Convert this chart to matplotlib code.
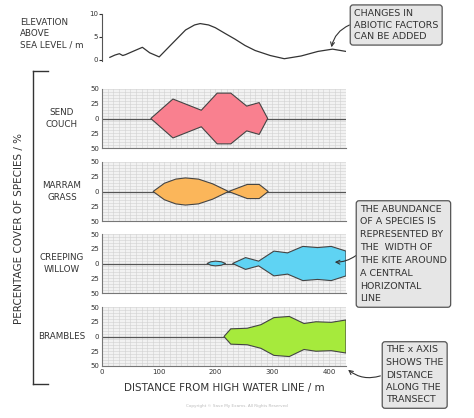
import matplotlib
matplotlib.use("Agg")
import matplotlib.pyplot as plt
import numpy as np

W, H = 474, 418
elev_x = [9, 18, 26, 32, 37, 50, 67, 80, 97, 120, 144, 160, 170, 185, 197, 215, 232, 250, 268, 295, 320, 350, 380, 406, 430]
elev_y = [0.5, 1.0, 1.3, 0.9, 1.1, 1.8, 2.7, 1.5, 0.6, 3.5, 6.5, 7.6, 7.9, 7.6, 7.0, 5.7, 4.5, 3.1, 2.0, 0.9, 0.2, 0.8, 1.8, 2.3, 1.8]

species = ["SEND\nCOUCH", "MARRAM\nGRASS", "CREEPING\nWILLOW", "BRAMBLES"]
colors = ["#f9808f", "#fbb65a", "#5fd3f3", "#a6ea3c"]
kites = [
    [([86, 125, 175, 203, 227, 255, 277, 292], [0, 33, 14, 43, 43, 21, 27, 0])],
    [([90, 110, 130, 147, 170, 195, 223], [0, 14, 21, 23, 21, 13, 0]),
     ([223, 256, 277, 293], [0, 12, 12, 0])],
    [([185, 192, 200, 210, 218], [0, 3, 4, 3, 0]),
     ([230, 253, 276, 303, 327, 354, 380, 404, 430], [0, 10, 4, 21, 18, 29, 27, 29, 21])],
    [([215, 227, 256, 280, 303, 330, 356, 377, 404, 430], [0, 13, 14, 20, 32, 34, 22, 25, 24, 28])],
]
xticks = [0, 100, 200, 300, 400]
xlabels = ["0", "100", "200", "300", "400"]
ytick_vals = [-50, -25, 0, 25, 50]
ytick_labels = ["50", "25", "0", "25", "50"]

fig = plt.figure(figsize=(W / 100, H / 100), dpi=100)
fs = 6.3
tc = "#333333"

def rect(x0, y0, x1, y1):
    return [x0 / W, 1 - y1 / H, (x1 - x0) / W, (y1 - y0) / H]

L, R = 102, 346
ax = fig.add_axes(rect(L, 14, R, 61))
ax.plot(elev_x, elev_y, color="#333333", lw=0.9)
ax.set_xlim(-5, 430)
ax.set_ylim(-0.3, 10)
ax.set_yticks([0, 5, 10])
ax.tick_params(labelsize=5, length=2, colors=tc, pad=1)
for s in ["top", "right", "bottom"]:
    ax.spines[s].set_visible(False)
ax.spines["left"].set_color("#555555")
ax.set_xticks([])
fig.text(20 / W, 1 - 34 / H, "ELEVATION\nABOVE\nSEA LEVEL / m", fontsize=fs, color=tc, va="center", linespacing=1.3)

panels = [(89, 148), (162, 221), (234, 293), (307, 366)]
for i, (y0, y1) in enumerate(panels):
    ax = fig.add_axes(rect(L, y0, R, y1))
    ax.set_facecolor("#f2f2f2")
    ax.set_xlim(0, 430)
    ax.set_ylim(-50, 50)
    ax.set_xticks(np.arange(0, 431, 10), minor=True)
    ax.set_yticks(np.arange(-50, 51, 5), minor=True)
    ax.grid(which="minor", color="#d0d0d0", lw=0.4)
    ax.grid(which="major", color="#d0d0d0", lw=0.4)
    ax.set_yticks(ytick_vals)
    ax.set_yticklabels(ytick_labels)
    ax.axhline(0, color="#555555", lw=0.9)
    for xs, ys in kites[i]:
        xs = np.array(xs); ys = np.array(ys)
        px = np.concatenate([xs, xs[::-1]])
        py = np.concatenate([ys, -ys[::-1]])
        ax.fill(px, py, facecolor=colors[i], edgecolor="#444444", lw=0.8, zorder=3)
    for s in ["top", "right"]:
        ax.spines[s].set_visible(False)
    ax.spines["left"].set_color("#777777")
    ax.spines["bottom"].set_color("#777777")
    ax.tick_params(labelsize=5, length=0, colors=tc, pad=2)
    ax.tick_params(which="minor", length=0)
    ax.set_xticks(xticks)
    if i < 3:
        ax.set_xticklabels([])
    else:
        ax.set_xticklabels(xlabels)
        ax.set_xlabel("DISTANCE FROM HIGH WATER LINE / m", fontsize=7.5, color=tc, labelpad=6)
    fig.text(62 / W, 1 - ((y0 + y1) / 2) / H, species[i], fontsize=fs, color=tc,
             ha="center", va="center", linespacing=1.3)

fig.add_artist(plt.Line2D([33 / W, 33 / W], [1 - 71 / H, 1 - 384 / H], color="#333333", lw=1))
fig.add_artist(plt.Line2D([33 / W, 48 / W], [1 - 71 / H, 1 - 71 / H], color="#333333", lw=1))
fig.add_artist(plt.Line2D([33 / W, 48 / W], [1 - 384 / H, 1 - 384 / H], color="#333333", lw=1))
fig.text(19 / W, 1 - 228 / H, "PERCENTAGE COVER OF SPECIES / %", rotation=90, fontsize=7.5,
         color=tc, ha="center", va="center")

box = dict(boxstyle="round,pad=0.4,rounding_size=0.3", fc="#e6e6e6", ec="#555555", lw=0.9)
fig.text(354 / W, 1 - 25 / H, "CHANGES IN\nABIOTIC FACTORS\nCAN BE ADDED", fontsize=6.8, color=tc,
         va="center", ha="left", bbox=box, linespacing=1.4)
fig.text(360 / W, 1 - 254 / H, "THE ABUNDANCE\nOF A SPECIES IS\nREPRESENTED BY\nTHE  WIDTH OF\nTHE KITE AROUND\nA CENTRAL\nHORIZONTAL\nLINE",
         fontsize=6.8, color=tc, va="center", ha="left", bbox=box, linespacing=1.55)
fig.text(386 / W, 1 - 375 / H, "THE x AXIS\nSHOWS THE\nDISTANCE\nALONG THE\nTRANSECT", fontsize=6.8, color=tc,
         va="center", ha="left", bbox=box, linespacing=1.5)
fig.text(237 / W, 1 - 407 / H, "Copyright © Save My Exams. All Rights Reserved", fontsize=3, color="#bbbbbb", ha="center")

fig.add_artist(matplotlib.patches.FancyArrowPatch((352 / W, 1 - 24 / H), (331 / W, 1 - 50 / H),
               transform=fig.transFigure, arrowstyle="->", mutation_scale=7, color="#333333", lw=0.8,
               connectionstyle="arc3,rad=0.3"))
fig.add_artist(matplotlib.patches.FancyArrowPatch((358 / W, 1 - 254 / H), (332 / W, 1 - 262 / H),
               transform=fig.transFigure, arrowstyle="->", mutation_scale=7, color="#333333", lw=0.8,
               connectionstyle="arc3,rad=-0.2"))
fig.add_artist(matplotlib.patches.FancyArrowPatch((383 / W, 1 - 375 / H), (346 / W, 1 - 368 / H),
               transform=fig.transFigure, arrowstyle="->", mutation_scale=7, color="#333333", lw=0.8,
               connectionstyle="arc3,rad=-0.3"))

fig.savefig("out.png", dpi=100, facecolor="white")
